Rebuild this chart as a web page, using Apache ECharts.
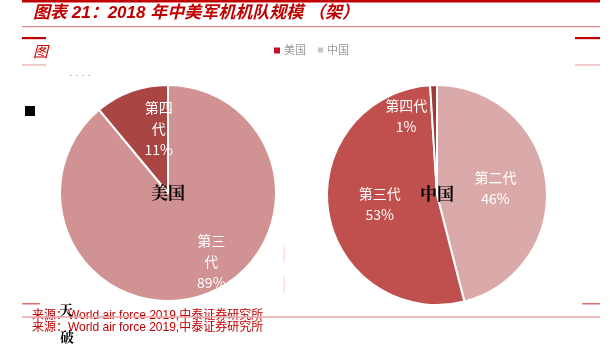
<!DOCTYPE html>
<html>
<head>
<meta charset="utf-8">
<script src="https://cdn.jsdelivr.net/npm/echarts@6/dist/echarts.min.js"></script>
<style>html,body{margin:0;padding:0;background:#fff}#c{width:610px;height:345px}</style>
</head>
<body>
<div id="c"></div>
<script>
var titleText = '图表 21：2018 年中美军机机队规模 （架）';
var sourceText = '来源：World air force 2019,中泰证券研究所';
var legendNames = ['美国', '中国'];
var usCategories = ['第三代', '第四代'];
var usValues = [89, 11];
var cnCategories = ['第二代', '第三代', '第四代'];
var cnValues = [46, 53, 1];

var usColors = ['#d09292', '#a94543'];
var cnColors = ['#daa9a9', '#c0504e', '#9e3a3a'];

var chart = echarts.init(document.getElementById('c'), null, {renderer: 'canvas'});

var usOffsets = [[24, 15], [10, -11]];
var cnOffsets = [[1, 0], [0, 0], [-29, -21]];
var labelFont = "'Noto Sans CJK SC', sans-serif";

function mkData(cats, vals, cols) {
  return cats.map(function (c, i) {
    return {name: c, value: vals[i], itemStyle: {color: cols[i]}};
  });
}

var option = {
  animation: false,
  backgroundColor: '#fff',
  series: [
    {
      type: 'pie',
      center: [168, 193],
      radius: [0, 108],
      startAngle: 90,
      clockwise: true,
      data: mkData(usCategories, usValues, usColors),
      itemStyle: {borderColor: '#fff', borderWidth: 2},
      label: {
        position: 'inside',
        color: '#fff',
        fontSize: 14,
        lineHeight: 21,
        fontFamily: labelFont,
        formatter: function (p) {
          return p.name.slice(0, 2) + '\n' + p.name.slice(2) + '\n' + Math.round(p.percent) + '%';
        }
      },
      labelLine: {show: false},
      labelLayout: function (p) {
        var o = usOffsets[p.dataIndex];
        return {dx: o[0], dy: o[1]};
      },
      emphasis: {disabled: true}
    },
    {
      type: 'pie',
      center: [437, 195],
      radius: [0, 110],
      startAngle: 90,
      clockwise: true,
      data: mkData(cnCategories, cnValues, cnColors),
      itemStyle: {borderColor: '#fff', borderWidth: 2},
      label: {
        position: 'inside',
        color: '#fff',
        fontSize: 14,
        lineHeight: 21,
        fontFamily: labelFont,
        formatter: function (p) {
          return p.name + '\n' + Math.round(p.percent) + '%';
        }
      },
      labelLine: {show: false},
      labelLayout: function (p) {
        var o = cnOffsets[p.dataIndex];
        return {dx: o[0], dy: o[1]};
      },
      emphasis: {disabled: true}
    }
  ],
  graphic: [
    {type: 'rect', shape: {x: 22, y: 0, width: 578, height: 2.5}, style: {fill: '#c00000'}},
    {type: 'text', left: 33, top: 5, style: {text: titleText, fill: '#c00000', font: "italic bold 17px 'Liberation Sans', 'Noto Sans CJK SC', sans-serif"}},
    {type: 'rect', shape: {x: 22, y: 26, width: 578, height: 1.2}, style: {fill: '#e08888'}},
    {type: 'rect', shape: {x: 22, y: 37, width: 24, height: 2.2}, style: {fill: '#c00000'}},
    {type: 'rect', shape: {x: 575, y: 37, width: 25, height: 2.2}, style: {fill: '#c00000'}},
    {type: 'rect', shape: {x: 22, y: 64, width: 24, height: 1.8}, style: {fill: '#f0c4c4'}},
    {type: 'rect', shape: {x: 575, y: 64, width: 25, height: 1.8}, style: {fill: '#f0c4c4'}},
    {type: 'text', left: 33, top: 44, style: {text: '图', fill: '#c00000', font: "italic 15px 'Noto Sans CJK SC', sans-serif"}},
    {type: 'rect', shape: {x: 274, y: 47.5, width: 6, height: 6}, style: {fill: '#c8102e'}},
    {type: 'text', left: 284, top: 44, style: {text: legendNames[0], fill: '#999', font: "11px 'Noto Sans CJK SC', sans-serif"}},
    {type: 'rect', shape: {x: 318, y: 47.5, width: 5, height: 5}, style: {fill: '#c8c8c8'}},
    {type: 'text', left: 327, top: 44, style: {text: legendNames[1], fill: '#999', font: "11px 'Noto Sans CJK SC', sans-serif"}},
    {type: 'line', shape: {x1: 70, y1: 75.5, x2: 94, y2: 75.5}, style: {stroke: '#bbbbbb', lineWidth: 1.2, lineDash: [2, 4]}},
    {type: 'rect', shape: {x: 25, y: 106, width: 10, height: 10}, style: {fill: '#000'}},
    {type: 'text', x: 168, y: 193, style: {text: legendNames[0], fill: '#000', align: 'center', verticalAlign: 'middle', font: "bold 17px 'Noto Serif CJK SC', 'Noto Sans CJK SC', serif"}, z: 10},
    {type: 'text', x: 437, y: 194, style: {text: legendNames[1], fill: '#000', align: 'center', verticalAlign: 'middle', font: "bold 17px 'Noto Serif CJK SC', 'Noto Sans CJK SC', serif"}, z: 10},
    {type: 'rect', shape: {x: 283.5, y: 247, width: 1.5, height: 16}, style: {fill: '#f5e0e0'}},
    {type: 'rect', shape: {x: 283.5, y: 277, width: 1.5, height: 16}, style: {fill: '#f5e0e0'}},
    {type: 'rect', shape: {x: 22, y: 303, width: 18, height: 1.5}, style: {fill: '#e07070'}},
    {type: 'rect', shape: {x: 582, y: 303, width: 18, height: 1.5}, style: {fill: '#e07070'}},
    {type: 'text', left: 32, top: 310, style: {text: sourceText, fill: '#c00000', font: "12px 'Liberation Sans', 'Noto Sans CJK SC', sans-serif"}, z: 5},
    {type: 'rect', shape: {x: 22, y: 316, width: 578, height: 2}, style: {fill: 'rgba(235,170,170,0.8)'}, z: 6},
    {type: 'text', left: 32, top: 322, style: {text: sourceText, fill: '#c00000', font: "12px 'Liberation Sans', 'Noto Sans CJK SC', sans-serif"}, z: 5},
    {type: 'text', left: 59, top: 303, style: {text: '天', fill: '#000', font: "bold 14px 'Noto Serif CJK SC', 'Noto Sans CJK SC', serif"}, z: 7},
    {type: 'text', left: 60, top: 330, style: {text: '破', fill: '#000', font: "bold 14px 'Noto Serif CJK SC', 'Noto Sans CJK SC', serif"}, z: 7}
  ]
};
chart.setOption(option);
</script>
</body>
</html>
